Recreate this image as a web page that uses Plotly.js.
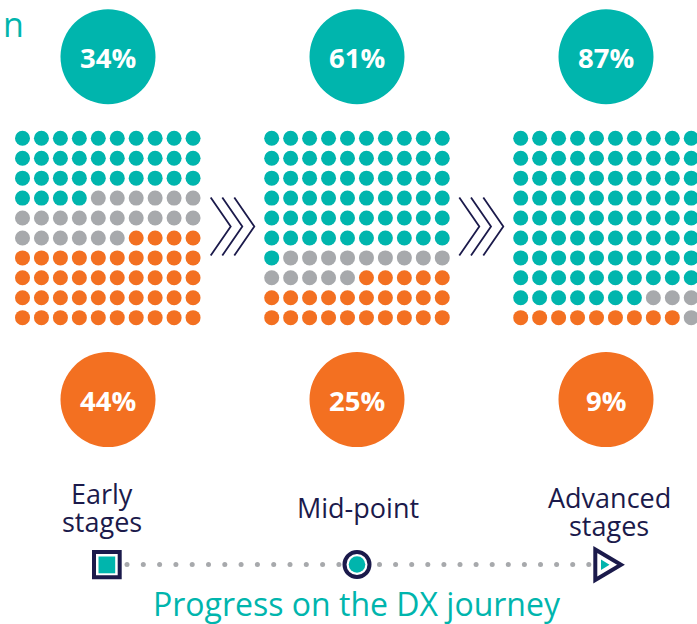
<!DOCTYPE html>
<html>
<head>
<meta charset="utf-8">
<script src="https://cdn.plot.ly/plotly-3.0.1.min.js"></script>
<style>
  html, body { margin: 0; padding: 0; background: #ffffff; }
  #chart { width: 697px; height: 624px; }
</style>
</head>
<body>
<div id="chart"></div>
<script>
// ---------------- DATA ----------------
const stageLines = [["Early", "stages"], ["Mid-point"], ["Advanced", "stages"]];
const tealPct = [34, 61, 87];
const orangePct = [44, 25, 9];
const axisTitle = "Progress on the DX journey";
const cutTitle = "n";
// waffle cells, row by row (T = teal, G = grey, O = orange)
const waffleEarly = [
  "TTTTTTTTTT", "TTTTTTTTTT", "TTTTTTTTTT", "TTTTGGGGGG", "GGGGGGGGGG",
  "GGGGGGOOOO", "OOOOOOOOOO", "OOOOOOOOOO", "OOOOOOOOOO", "OOOOOOOOOO"
];
const waffleMid = [
  "TTTTTTTTTT", "TTTTTTTTTT", "TTTTTTTTTT", "TTTTTTTTTT", "TTTTTTTTTT",
  "TTTTTTTTTT", "TGGGGGGGGG", "GGGGGOOOOO", "OOOOOOOOOO", "OOOOOOOOOO"
];
const waffleAdvanced = [
  "TTTTTTTTTT", "TTTTTTTTTT", "TTTTTTTTTT", "TTTTTTTTTT", "TTTTTTTTTT",
  "TTTTTTTTTT", "TTTTTTTTTT", "TTTTTTTTTT", "TTTTTTTGGG", "OOOOOOOOOG"
];
const waffles = [waffleEarly, waffleMid, waffleAdvanced];

// ---------------- STYLE / LAYOUT ----------------
const W = 697, H = 624;
const TEAL = "#00b5ad", ORANGE = "#f37021", GREY = "#a7a9ac", NAVY = "#1b1a4b";
const colorOf = { T: TEAL, G: GREY, O: ORANGE };
const gridX0 = [22.5, 271.7, 520.7];
const centersX = [108, 357, 606];
const dx = 18.95, dy = 19.93, gridY0 = 138.3;
const FONT = "Open Sans, Noto Sans, sans-serif";

const traces = [];
waffles.forEach((rows, g) => {
  const xs = [], ys = [], cs = [];
  rows.forEach((row, r) => {
    row.split("").forEach((ch, c) => {
      xs.push(gridX0[g] + c * dx);
      ys.push(gridY0 + r * dy);
      cs.push(colorOf[ch]);
    });
  });
  traces.push({
    type: "scatter", mode: "markers", x: xs, y: ys, hoverinfo: "skip",
    marker: { size: 15, color: cs, line: { width: 0 } }, showlegend: false
  });
});

// dotted progress line
const dotsX = [], dotsY = [];
for (let i = 0; i < 14; i++) { dotsX.push(127 + i * 16.3); dotsY.push(564.5); }
for (let i = 0; i < 14; i++) { dotsX.push(379.5 + i * 16.1); dotsY.push(564.5); }
traces.push({
  type: "scatter", mode: "markers", x: dotsX, y: dotsY, hoverinfo: "skip",
  marker: { size: 5, color: GREY }, showlegend: false
});

const shapes = [];
const annotations = [];
const R = 47.5;
centersX.forEach((cx, i) => {
  shapes.push({ type: "circle", xref: "x", yref: "y", x0: cx - R, x1: cx + R, y0: 56.7 - R, y1: 56.7 + R,
    fillcolor: TEAL, line: { width: 0 }, layer: "below" });
  shapes.push({ type: "circle", xref: "x", yref: "y", x0: cx - R, x1: cx + R, y0: 399.5 - R, y1: 399.5 + R,
    fillcolor: ORANGE, line: { width: 0 }, layer: "below" });
  annotations.push({ x: cx, y: 57, xref: "x", yref: "y", text: "<b>" + tealPct[i] + "%</b>", showarrow: false,
    xanchor: "center", yanchor: "middle", font: { family: FONT, size: 27.5, color: "#ffffff" } });
  annotations.push({ x: cx, y: 400, xref: "x", yref: "y", text: "<b>" + orangePct[i] + "%</b>", showarrow: false,
    xanchor: "center", yanchor: "middle", font: { family: FONT, size: 27.5, color: "#ffffff" } });
});

// chevrons
[[210.7, 222.3, 234.3], [459.3, 471, 483.3]].forEach(set => {
  set.forEach(x0 => {
    shapes.push({ type: "path", xref: "x", yref: "y",
      path: `M ${x0},197.5 L ${x0 + 20},226.5 L ${x0},255.5`,
      line: { color: NAVY, width: 1.8 } });
  });
});

// progress markers
shapes.push({ type: "rect", xref: "x", yref: "y", x0: 94, x1: 119.7, y0: 552, y1: 577.3,
  fillcolor: "#ffffff", line: { color: NAVY, width: 4 } });
shapes.push({ type: "rect", xref: "x", yref: "y", x0: 98.5, x1: 115.2, y0: 556.5, y1: 573.3,
  fillcolor: TEAL, line: { width: 0 } });
shapes.push({ type: "circle", xref: "x", yref: "y", x0: 357 - 12.5, x1: 357 + 12.5, y0: 564.5 - 12.5, y1: 564.5 + 12.5,
  fillcolor: "#ffffff", line: { color: NAVY, width: 4 } });
shapes.push({ type: "circle", xref: "x", yref: "y", x0: 357 - 8.3, x1: 357 + 8.3, y0: 564.5 - 8.3, y1: 564.5 + 8.3,
  fillcolor: TEAL, line: { width: 0 } });
shapes.push({ type: "path", xref: "x", yref: "y", path: "M 595.3,549.5 L 621,564.7 L 595.3,580 Z",
  fillcolor: "#ffffff", line: { color: NAVY, width: 4 } });
shapes.push({ type: "path", xref: "x", yref: "y", path: "M 601,559.5 L 609.5,564.7 L 601,570 Z",
  fillcolor: TEAL, line: { width: 0 } });

// stage labels (two tight lines, as in the reference)
const labelY = [[493, 521], [507], [497, 525]];
const labelX = [102, 358, 609];
stageLines.forEach((lines, i) => {
  lines.forEach((t, j) => {
    annotations.push({ x: labelX[i], y: labelY[i][j], xref: "x", yref: "y", text: t, showarrow: false,
      xanchor: "center", yanchor: "middle", font: { family: FONT, size: 27, color: NAVY } });
  });
});

annotations.push({ x: 357, y: 603, xref: "x", yref: "y", text: axisTitle, showarrow: false,
  xanchor: "center", yanchor: "middle", font: { family: FONT, size: 32, color: TEAL } });
annotations.push({ x: 0.5, y: 24, xref: "x", yref: "y", text: cutTitle, showarrow: false,
  xanchor: "left", yanchor: "middle", font: { family: FONT, size: 34, color: TEAL } });

const layout = {
  width: W, height: H,
  margin: { l: 0, r: 0, t: 0, b: 0, pad: 0 },
  paper_bgcolor: "#ffffff", plot_bgcolor: "#ffffff",
  xaxis: { range: [0, W], visible: false, fixedrange: true },
  yaxis: { range: [H, 0], visible: false, fixedrange: true },
  shapes: shapes,
  annotations: annotations,
  showlegend: false
};

Plotly.newPlot("chart", traces, layout, { displayModeBar: false, staticPlot: true });
</script>
</body>
</html>
